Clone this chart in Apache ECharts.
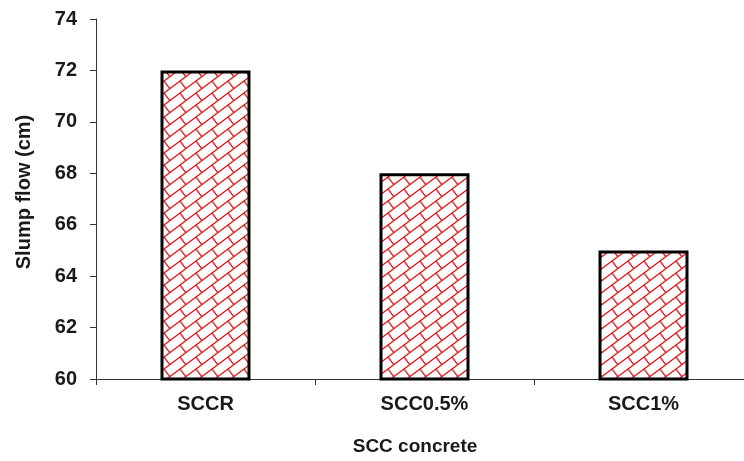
<!DOCTYPE html>
<html>
<head>
<meta charset="utf-8">
<script src="https://cdn.jsdelivr.net/npm/echarts@6/dist/echarts.min.js"></script>
<style>
html,body{margin:0;padding:0;background:#fff;overflow:hidden;}
#chart{width:760px;height:461px;}
</style>
</head>
<body>
<div id="chart"></div>
<script>
const categories = ['SCCR', 'SCC0.5%', 'SCC1%'];
const slumpFlow = [72, 68, 65];
const yTicks = [60, 62, 64, 66, 68, 70, 72, 74];
const xAxisTitle = 'SCC concrete';
const yAxisTitle = 'Slump flow (cm)';

function makeBrickPattern() {
  const W = 16, H = 12;
  const c = document.createElement('canvas');
  c.width = W; c.height = H;
  const g = c.getContext('2d');
  g.fillStyle = '#ffffff';
  g.fillRect(0, 0, W, H);
  g.strokeStyle = '#ff0000';
  g.lineWidth = 1.2;
  const segs = [
    [0, 12, 16, 0],
    [4, 9, 9.76, 16.68]
  ];
  for (let dx = -W; dx <= W; dx += W) {
    for (let dy = -H; dy <= H; dy += H) {
      segs.forEach(s => {
        g.beginPath();
        g.moveTo(s[0] + dx, s[1] + dy);
        g.lineTo(s[2] + dx, s[3] + dy);
        g.stroke();
      });
    }
  }
  return c;
}

const chart = echarts.init(document.getElementById('chart'), null, {renderer: 'canvas'});
const font = '"Liberation Sans", Arial, sans-serif';
chart.setOption({
  animation: false,
  backgroundColor: '#ffffff',
  grid: {left: 96, right: 7, top: 19, bottom: 80, containLabel: false},
  xAxis: {
    type: 'category',
    data: categories,
    name: xAxisTitle,
    nameLocation: 'middle',
    nameGap: 58,
    nameTextStyle: {fontFamily: font, fontWeight: 'bold', fontSize: 19, color: '#1a1a1a', padding: [0, 19, 0, 0]},
    axisLine: {lineStyle: {color: '#333333', width: 1}},
    axisTick: {show: true, length: 6, lineStyle: {color: '#333333'}},
    axisLabel: {fontFamily: font, fontWeight: 'bold', fontSize: 20, color: '#1a1a1a', margin: 15}
  },
  yAxis: {
    type: 'value',
    min: 60, max: 74, interval: 2,
    name: yAxisTitle,
    nameLocation: 'middle',
    nameGap: 62,
    nameTextStyle: {fontFamily: font, fontWeight: 'bold', fontSize: 20, color: '#1a1a1a', padding: [0, 0, 0, 14]},
    axisLine: {show: true, lineStyle: {color: '#333333', width: 1}},
    axisTick: {show: true, length: 6, lineStyle: {color: '#333333'}},
    splitLine: {show: false},
    axisLabel: {fontFamily: font, fontWeight: 'bold', fontSize: 20, color: '#1a1a1a', margin: 19,
      formatter: v => (yTicks.indexOf(v) >= 0 ? String(v) : '')}
  },
  series: [{
    type: 'bar',
    data: slumpFlow,
    barWidth: 90,
    itemStyle: {
      color: {image: makeBrickPattern(), repeat: 'repeat'},
      borderColor: '#000000',
      borderWidth: 3
    }
  }]
});
</script>
</body>
</html>
